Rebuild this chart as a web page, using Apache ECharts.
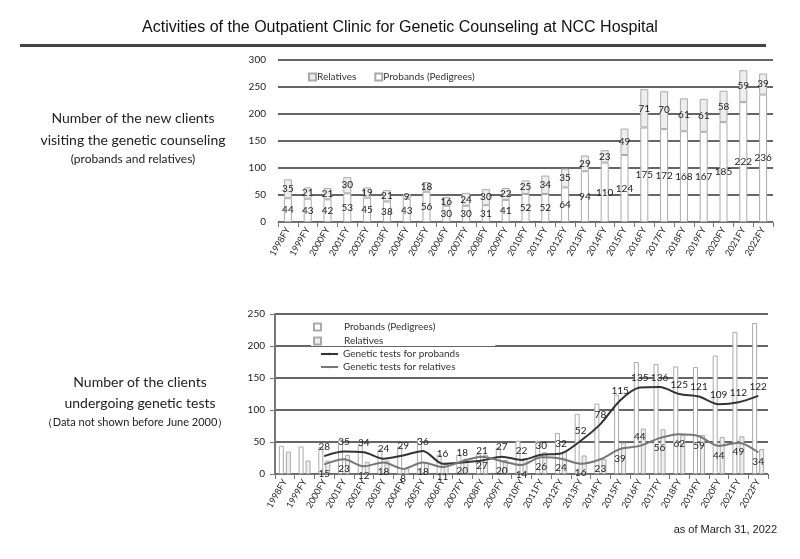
<!DOCTYPE html>
<html>
<head>
<meta charset="utf-8">
<script src="https://cdn.jsdelivr.net/npm/echarts@6/dist/echarts.min.js"></script>
<style>html,body{margin:0;padding:0;background:#fff}#c{width:800px;height:559px}</style>
</head>
<body>
<div id="c"></div>
<script>
var years = ['1998FY','1999FY','2000FY','2001FY','2002FY','2003FY','2004FY','2005FY','2006FY','2007FY','2008FY','2009FY','2010FY','2011FY','2012FY','2013FY','2014FY','2015FY','2016FY','2017FY','2018FY','2019FY','2020FY','2021FY','2022FY'];
var probands = [44,43,42,53,45,38,43,56,30,30,31,41,52,52,64,94,110,124,175,172,168,167,185,222,236];
var relatives = [35,21,21,30,19,21,9,18,16,24,30,22,25,34,35,29,23,49,71,70,61,61,58,59,39];
var testsProbands = [null,null,28,35,34,24,29,36,16,18,21,27,22,30,32,52,78,115,135,136,125,121,109,112,122];
var testsRelatives = [null,null,15,23,12,18,8,18,11,20,27,20,14,26,24,16,23,39,44,56,62,59,44,49,34];
var topTicks = [0,50,100,150,200,250,300];
var bottomTicks = [0,50,100,150,200,250];

var chart = echarts.init(document.getElementById('c'), null, {renderer:'canvas'});
var F = 'Lato, "Open Sans", sans-serif';
var relLabelPos = testsRelatives.map(function(v,i){ return years[i]==='2016FY' ? 'top' : 'bottom'; });

var option = {
  backgroundColor:'#fff',
  animation:false,
  title:{text:'Activities of the Outpatient Clinic for Genetic Counseling at NCC Hospital', left:'center', top:15,
    textStyle:{fontFamily:'"Liberation Sans", Arial, sans-serif', fontSize:16, fontWeight:'normal', color:'#111'}},
  graphic:[
    {type:'rect', shape:{x:20,y:44,width:746,height:3}, style:{fill:'#444'}},
    {type:'text', style:{text:'Number of the new clients', x:133, y:118, textAlign:'center', textVerticalAlign:'middle', font:'14px '+F, fill:'#222'}},
    {type:'text', style:{text:'visiting the genetic counseling', x:133, y:140, textAlign:'center', textVerticalAlign:'middle', font:'14px '+F, fill:'#222'}},
    {type:'text', style:{text:'(probands and relatives)', x:133, y:159, textAlign:'center', textVerticalAlign:'middle', font:'12px '+F, fill:'#222'}},
    {type:'text', style:{text:'Number of the clients', x:140, y:382, textAlign:'center', textVerticalAlign:'middle', font:'14px '+F, fill:'#222'}},
    {type:'text', style:{text:'undergoing genetic tests', x:140, y:403, textAlign:'center', textVerticalAlign:'middle', font:'14px '+F, fill:'#222'}},
    {type:'text', style:{text:'（Data not shown before June 2000）', x:135, y:422, textAlign:'center', textVerticalAlign:'middle', font:'11px '+F, fill:'#222'}},
    {type:'text', style:{text:'as of March 31, 2022', x:777, y:530, textAlign:'right', textVerticalAlign:'middle', font:'11px "Liberation Sans", Arial, sans-serif', fill:'#222'}}
  ],
  legend:[
    {data:['Relatives','Probands (Pedigrees)'], left:303, top:67, itemWidth:7, itemHeight:7, itemGap:18, icon:'rect',
      textStyle:{fontFamily:F, fontSize:10, color:'#333', padding:[0,0,0,-4]}},
    {data:['Probands (Pedigrees)','Relatives'], orient:'vertical', left:311, top:320, itemWidth:7, itemHeight:7, itemGap:4, icon:'rect',
      textStyle:{fontFamily:F, fontSize:10, color:'#333', padding:[0,0,0,18]}, backgroundColor:'#fff', padding:[2,60,0,2]},
    {data:['Genetic tests for probands','Genetic tests for relatives'], orient:'vertical', left:318, top:347, itemWidth:17, itemHeight:3, itemGap:3,
      textStyle:{fontFamily:F, fontSize:10, color:'#333'}, backgroundColor:'#fff', padding:[2,40,2,2]}
  ],
  grid:[
    {left:278, right:27, top:60, height:162},
    {left:275, right:32, top:314, height:160}
  ],
  xAxis:[
    {type:'category', gridIndex:0, data:years, axisLine:{lineStyle:{color:'#777', width:1}}, axisTick:{show:true, lineStyle:{color:'#777'}},
      axisLabel:{rotate:60, fontSize:9, fontFamily:F, color:'#222', margin:6}},
    {type:'category', gridIndex:1, data:years, axisLine:{lineStyle:{color:'#777', width:1}}, axisTick:{show:true, lineStyle:{color:'#777'}},
      axisLabel:{rotate:60, fontSize:9, fontFamily:F, color:'#222', margin:6}}
  ],
  yAxis:[
    {type:'value', gridIndex:0, min:topTicks[0], max:topTicks[topTicks.length-1], interval:50,
      axisLine:{show:false}, axisTick:{show:false},
      axisLabel:{fontSize:10, fontFamily:F, color:'#222', margin:12},
      splitLine:{lineStyle:{color:'#666', width:2}}},
    {type:'value', gridIndex:1, min:bottomTicks[0], max:bottomTicks[bottomTicks.length-1], interval:50,
      axisLine:{show:true, lineStyle:{color:'#777', width:2}}, axisTick:{show:true, lineStyle:{color:'#777'}},
      axisLabel:{fontSize:10, fontFamily:F, color:'#222', margin:10},
      splitLine:{lineStyle:{color:'#666', width:2}}}
  ],
  series:[
    {name:'Probands (Pedigrees)', type:'bar', xAxisIndex:0, yAxisIndex:0, stack:'top', data:probands, barWidth:8,
      itemStyle:{color:'#fff', borderColor:'#aaa', borderWidth:1},
      label:{show:true, position:'inside', fontFamily:F, fontSize:10, color:'#222'}},
    {name:'Relatives', type:'bar', xAxisIndex:0, yAxisIndex:0, stack:'top', data:relatives, barWidth:8,
      itemStyle:{color:'#eee', borderColor:'#aaa', borderWidth:1},
      label:{show:true, position:'inside', fontFamily:F, fontSize:10, color:'#222'}},
    {name:'Probands (Pedigrees)', type:'bar', xAxisIndex:1, yAxisIndex:1, data:probands, barWidth:5, barGap:'40%',
      itemStyle:{color:'#fff', borderColor:'#aaa', borderWidth:1}},
    {name:'Relatives', type:'bar', xAxisIndex:1, yAxisIndex:1, data:relatives, barWidth:5, barGap:'40%',
      itemStyle:{color:'#eee', borderColor:'#aaa', borderWidth:1}},
    {name:'Genetic tests for probands', type:'line', xAxisIndex:1, yAxisIndex:1, data:testsProbands, smooth:0.3,
      symbol:'circle', symbolSize:1, showSymbol:true,
      lineStyle:{color:'#333', width:2}, itemStyle:{color:'#333'},
      label:{show:true, position:'top', fontFamily:F, fontSize:10, color:'#222', distance:4}},
    {name:'Genetic tests for relatives', type:'line', xAxisIndex:1, yAxisIndex:1,
      data:testsRelatives.map(function(v,i){ return {value:v, label:{position:relLabelPos[i]}}; }),
      smooth:0.3, symbol:'circle', symbolSize:1, showSymbol:true,
      lineStyle:{color:'#777', width:2}, itemStyle:{color:'#777'},
      label:{show:true, fontFamily:F, fontSize:10, color:'#222', distance:4}}
  ]
};
chart.setOption(option);
</script>
</body>
</html>
